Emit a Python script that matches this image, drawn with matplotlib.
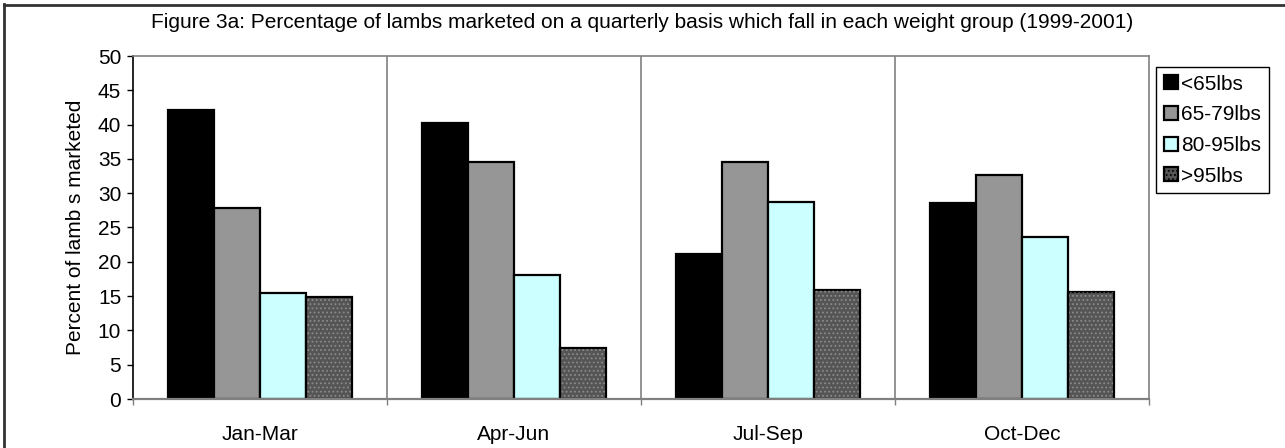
import matplotlib
matplotlib.use("Agg")
import matplotlib.pyplot as plt
from matplotlib.lines import Line2D
from matplotlib.patches import Patch
import numpy as np

plt.rcParams['font.family'] = ['Liberation Sans', 'DejaVu Sans']
plt.rcParams['hatch.linewidth'] = 0.8

quarters = ["Jan-Mar", "Apr-Jun", "Jul-Sep", "Oct-Dec"]
groups = ["<65lbs", "65-79lbs", "80-95lbs", ">95lbs"]
under_65 = [42.2, 40.3, 21.2, 28.5]
from_65_79 = [27.8, 34.5, 34.5, 32.6]
from_80_95 = [15.4, 18.1, 28.7, 23.6]
over_95 = [14.9, 7.5, 15.9, 15.6]
yticks = list(range(0, 55, 5))

series = [under_65, from_65_79, from_80_95, over_95]
faces = ["#000000", "#969696", "#ccffff", "#555555"]

W, H = 1285, 448
FS = 15
fig = plt.figure(figsize=(W / 100, H / 100), dpi=100)
ax = fig.add_axes([133 / W, (H - 399) / H, (1149 - 133) / W, (399 - 56) / H])

x = np.arange(len(quarters))
bw = 0.182
handles = []
for i, (vals, fc, name) in enumerate(zip(series, faces, groups)):
    pos = x + (i - 1.5) * bw
    ax.bar(pos, vals, width=bw, color=fc, edgecolor="black", linewidth=1.6, zorder=3)
    if i == 3:
        # dotted fill texture on the heaviest group
        ax.bar(pos, vals, width=bw - 0.008, color="none", edgecolor="#8a8a8a",
               hatch="....", linewidth=0, zorder=4)
        handles.append(Patch(facecolor=fc, edgecolor="black", linewidth=1.6,
                             hatch="....", label=name))
    else:
        handles.append(Patch(facecolor=fc, edgecolor="black", linewidth=1.6, label=name))

# category separators
for s in [0.5, 1.5, 2.5]:
    ax.axvline(s, color="#808080", linewidth=1.2, zorder=1)

ax.set_xlim(-0.5, 3.5)
ax.set_ylim(0, 50)
ax.set_yticks(yticks)
ax.set_xticks(x)
ax.set_xticklabels(quarters)
ax.set_xticks([-0.5, 0.5, 1.5, 2.5, 3.5], minor=True)
ax.tick_params(axis="x", which="major", length=0, pad=19, labelsize=FS)
ax.tick_params(axis="x", which="minor", length=4.5, width=1.0, color="#808080", direction="out")
ax.tick_params(axis="y", length=4.5, width=1.0, direction="out", labelsize=FS, pad=4)

ax.spines["left"].set_color("#000000")
ax.spines["left"].set_linewidth(1.2)
ax.spines["bottom"].set_color("#808080")
ax.spines["bottom"].set_linewidth(1.6)
ax.spines["bottom"].set_zorder(5)
for sp in ["top", "right"]:
    ax.spines[sp].set_color("#808080")
    ax.spines[sp].set_linewidth(1.2)

ax.set_ylabel("Percent of lamb s marketed", fontsize=FS)
ax.yaxis.set_label_coords(-0.047, 0.5)

fig.text(642 / W, 1 - 23 / H,
         "Figure 3a: Percentage of lambs marketed on a quarterly basis which fall in each weight group (1999-2001)",
         ha="center", va="center", fontsize=FS)

leg = fig.legend(handles=handles, loc="upper left",
                 bbox_to_anchor=(1156 / W, 1 - 67 / H), borderaxespad=0,
                 fontsize=FS, handlelength=0.67, handleheight=0.67, handletextpad=0.15,
                 labelspacing=0.56, borderpad=0.37, frameon=True, fancybox=False,
                 edgecolor="#000000", framealpha=1)
leg.get_frame().set_linewidth(1.0)

# chart border (left and top edges)
fig.add_artist(Line2D([4 / W, 4 / W], [0, 1 - 4 / H], transform=fig.transFigure,
                      color="#333333", linewidth=2))
fig.add_artist(Line2D([4 / W, 1], [1 - 5 / H, 1 - 5 / H], transform=fig.transFigure,
                      color="#333333", linewidth=2))

fig.savefig("out.png", dpi=100)
